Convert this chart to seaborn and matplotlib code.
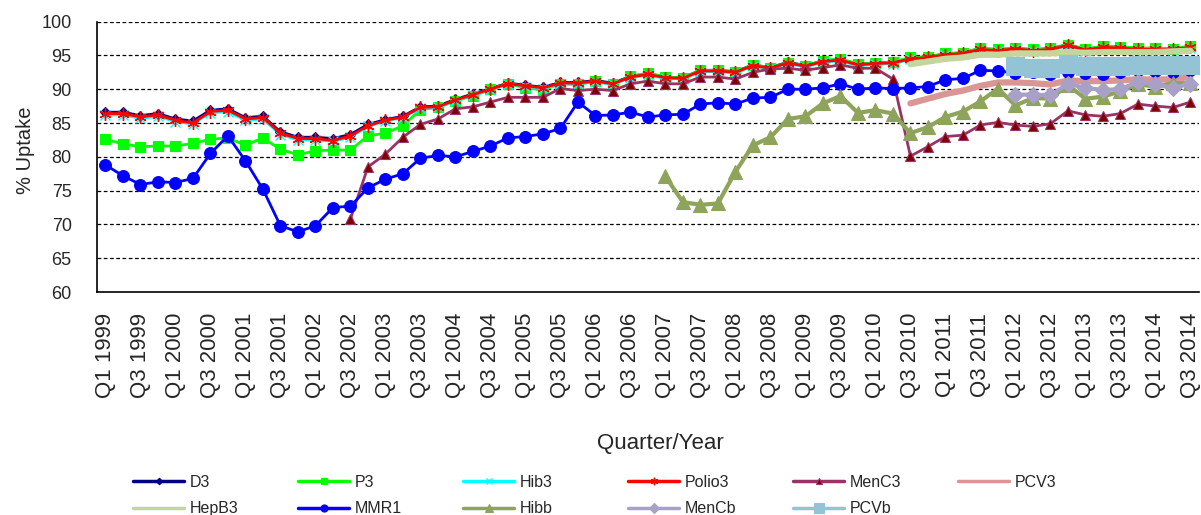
import numpy as np
import pandas as pd
import seaborn as sns
import matplotlib.pyplot as plt
from matplotlib.ticker import MultipleLocator, FixedLocator

NA = np.nan

# quarterly uptake (%), Q1 1999 .. Q3 2014
years = list(range(1999, 2015))
quarters = [f"Q{q} {y}" for y in years for q in (1, 2, 3, 4)][:63]

d3 = [86.6, 86.6, 86.1, 86.4, 85.6, 85.3, 86.9, 87.1, 85.8, 86.0,
      83.7, 82.9, 82.9, 82.7, 83.3, 84.8, 85.5, 86.0, 87.4, 87.5,
      88.5, 89.3, 90.1, 90.9, 90.6, 90.3, 91.0, 91.0, 91.3, 90.9,
      91.9, 92.3, 91.8, 91.7, 92.8, 92.8, 92.6, 93.6, 93.2, 94.0,
      93.5, 94.2, 94.4, 93.7, 93.9, 94.0, 94.6, 94.8, 95.2, 95.4,
      96.0, 95.8, 96.1, 95.8, 96.0, 96.6, 95.9, 96.3, 96.2, 96.0,
      96.0, 96.0, 96.3]
p3 = [82.6, 81.9, 81.5, 81.6, 81.6, 82.0, 82.6, 82.8, 81.7, 82.8,
      81.1, 80.3, 80.9, 81.0, 81.0, 83.1, 83.5, 84.6, 87.0, 87.3,
      88.3, 89.0, 90.0, 90.8, 90.2, 89.9, 90.8, 90.7, 91.2, 90.7,
      91.9, 92.4, 91.8, 91.7, 92.8, 92.8, 92.5, 93.6, 93.2, 93.9,
      93.5, 94.2, 94.5, 93.7, 93.9, 94.0, 94.7, 94.8, 95.3, 95.4,
      96.1, 95.9, 96.1, 95.9, 96.1, 96.6, 95.9, 96.4, 96.3, 96.1,
      96.1, 96.0, 96.4]
hib3 = [86.2, 86.2, 85.7, 86.0, 85.2, 84.9, 86.5, 86.7, 85.4, 85.6,
        83.3, 82.5, 82.5, 82.3, 82.9, 84.5, 85.3, 85.8, 87.2, 87.3,
        88.3, 89.1, 89.9, 90.8, 90.4, 90.1, 90.8, 90.8, 91.1, 90.7,
        91.7, 92.1, 91.6, 91.5, 92.6, 92.6, 92.4, 93.4, 93.0, 93.8,
        93.3, 94.0, 94.2, 93.5, 93.7, 93.8, 94.4, 94.6, 95.0, 95.2,
        95.8, 95.6, 95.9, 95.6, 95.8, 96.4, 95.7, 96.1, 96.0, 95.8,
        95.8, 95.8, 96.1]
polio3 = [86.4, 86.4, 85.9, 86.2, 85.4, 85.0, 86.7, 86.9, 85.6, 85.8,
          83.5, 82.7, 82.7, 82.4, 83.1, 84.6, 85.4, 85.9, 87.3, 87.4,
          88.4, 89.2, 90.0, 90.8, 90.5, 90.2, 90.9, 90.9, 91.2, 90.8,
          91.8, 92.2, 91.7, 91.6, 92.7, 92.7, 92.5, 93.5, 93.1, 93.9,
          93.4, 94.1, 94.3, 93.6, 93.8, 93.9, 94.5, 94.7, 95.1, 95.3,
          95.9, 95.7, 96.0, 95.7, 95.9, 96.5, 95.8, 96.2, 96.1, 95.9,
          95.9, 95.9, 96.2]
menc3 = [NA] * 14 + [
    70.8, 78.5, 80.4, 82.9, 84.8, 85.6, 87.1, 87.4, 88.1, 88.8,
    88.8, 88.8, 90.1, 89.8, 90.0, 89.8, 90.8, 91.2, 90.8, 90.8,
    91.8, 91.8, 91.5, 92.5, 93.0, 93.1, 92.8, 93.2, 93.6, 93.1,
    93.1, 91.5, 80.1, 81.5, 83.0, 83.2, 84.7, 85.1, 84.7, 84.5,
    84.9, 86.8, 86.2, 86.0, 86.4, 87.8, 87.5, 87.3, 88.1]
pcv3 = [NA] * 46 + [
    87.9, 88.6, 89.3, 89.8, 90.5, 91.0, 91.0, 90.9, 90.7, 91.3,
    91.2, 91.2, 91.3, 91.5, 91.4, 91.5, 91.8]
hepb3 = [NA] * 46 + [
    93.7, 94.1, 94.5, 94.7, 95.1, 95.1, 95.3, 95.3, 95.3, 95.5,
    95.4, 95.5, 95.5, 95.5, 95.5, 95.6, 95.7]
mmr1 = [78.8, 77.2, 75.9, 76.3, 76.2, 76.8, 80.5, 83.1, 79.4, 75.2,
        69.8, 68.9, 69.8, 72.5, 72.7, 75.4, 76.7, 77.5, 79.8, 80.2,
        80.0, 80.8, 81.6, 82.8, 83.0, 83.4, 84.2, 88.1, 86.1, 86.2,
        86.6, 85.9, 86.2, 86.3, 87.8, 88.0, 87.8, 88.7, 88.8, 90.0,
        90.0, 90.2, 90.8, 90.0, 90.2, 90.1, 90.2, 90.4, 91.4, 91.6,
        92.8, 92.7, 92.4, 92.5, 92.3, 92.6, 92.4, 92.3, 92.6, 92.8,
        92.7, 92.6, 92.9]
hibb = [NA] * 32 + [
    77.1, 73.3, 72.9, 73.1, 77.8, 81.7, 82.9, 85.6, 86.0, 87.9,
    89.0, 86.5, 86.9, 86.4, 83.5, 84.4, 85.9, 86.7, 88.2, 90.1,
    87.6, 88.7, 88.6, 90.6, 88.6, 88.9, 89.7, 90.7, 90.4, 90.9,
    90.9]
mencb = [NA] * 52 + [89.2, 89.2, 89.1, 90.8, 90.2, 89.9, 90.0, 91.1, 90.7, 90.2, 90.8]
pcvb = [NA] * 52 + [93.4, 93.1, 93.1, 93.8, 93.4, 93.4, 93.4, 93.6, 93.6, 93.6, 93.6]

series = [
    # name, values, line colour, marker, size, face, edge, linewidth
    ("D3", d3, "#000080", "D", 5.5, "#000080", "#000080", 2.0),
    ("P3", p3, "#00FF00", "s", 7.5, "#00FF00", "#00FF00", 2.0),
    ("Hib3", hib3, "#00FFFF", "x", 7, "#00FFFF", "#00FFFF", 2.0),
    ("Polio3", polio3, "#FF0000", (6, 2, 0), 9, "#FF0000", "#FF0000", 2.0),
    ("MenC3", menc3, "#993366", "^", 7.5, "#800000", "#993366", 2.0),
    ("PCV3", pcv3, "#D99694", "None", 0, "#D99694", "#D99694", 4.5),
    ("HepB3", hepb3, "#C3D69B", "None", 0, "#C3D69B", "#C3D69B", 4.5),
    ("MMR1", mmr1, "#0000FF", "o", 8.5, "#0000FF", "#0000FF", 2.0),
    ("Hibb", hibb, "#8EA45A", "^", 10.5, "#8EA45A", "#8EA45A", 3.0),
    ("MenCb", mencb, "#A9A0C8", "D", 8.5, "#A9A0C8", "#A9A0C8", 3.0),
    ("PCVb", pcvb, "#93C3D5", "s", 12.5, "#93C3D5", "#93C3D5", 3.0),
]

sns.set_style("white")
plt.rcParams["font.family"] = ["Liberation Sans", "DejaVu Sans"]

W, H = 1201, 515
AX = [0.0805, 0.433, 0.918, 0.525]

fig = plt.figure(figsize=(W / 100, H / 100), dpi=100)
ax = fig.add_axes(AX)

x = np.arange(len(quarters))
for name, vals, col, mk, ms, fc, ec, lw in series:
    sns.lineplot(x=x, y=np.array(vals, dtype=float), ax=ax, color=col,
                 marker=mk, markersize=ms, markerfacecolor=fc,
                 markeredgecolor=ec, markeredgewidth=1.0 if mk in ("x", (6, 2, 0)) else 0.8,
                 linewidth=lw, label=name)

ax.set_ylim(60, 100)
ax.set_xlim(-0.5, len(quarters) - 0.5)
ax.yaxis.set_major_locator(MultipleLocator(5))
for yv in range(65, 101, 5):
    ax.axhline(yv, color="black", linestyle=(0, (3, 2)), linewidth=0.9, zorder=0.5)

ax.set_xticks(x[::2])
ax.set_xticklabels(quarters[::2], rotation=90, fontsize=16)
ax.xaxis.set_minor_locator(FixedLocator(np.arange(-0.5, len(quarters), 1)))
ax.tick_params(axis="x", which="major", length=0, pad=15)
ax.tick_params(axis="x", which="minor", length=6, width=1, color="black", direction="out")
ax.tick_params(axis="y", which="major", length=6, width=1, color="black", direction="out",
               labelsize=13, pad=12)

for side in ("top", "right"):
    ax.spines[side].set_visible(False)
for side in ("left", "bottom"):
    ax.spines[side].set_color("black")
    ax.spines[side].set_linewidth(1.2)


def to_axes(px, py):
    # figure pixel (from top-left) -> axes fraction
    return ((px / W - AX[0]) / AX[2], ((H - py) / H - AX[1]) / AX[3])


ax.set_ylabel("% Uptake", fontsize=14.5)
ax.yaxis.set_label_coords(*to_axes(35, 150))
ax.set_xlabel("Quarter/Year", fontsize=16)
ax.xaxis.set_label_coords(*to_axes(660, 433))

handles, labels = ax.get_legend_handles_labels()
if ax.get_legend():
    ax.get_legend().remove()
lookup = dict(zip(labels, handles))
legend_cols = [["D3", "HepB3"], ["P3", "MMR1"], ["Hib3", "Hibb"],
               ["Polio3", "MenCb"], ["MenC3", "PCVb"], ["PCV3"]]
for c, names in enumerate(legend_cols):
    leg = fig.legend([lookup[n] for n in names], names, loc="upper left",
                     bbox_to_anchor=((133 + 165 * c) / W, 1 - 475 / H),
                     frameon=False, fontsize=11.5, handlelength=3.2, handletextpad=0.35,
                     labelspacing=0.7, borderpad=0, borderaxespad=0, markerscale=0.6)
    for ln in leg.get_lines():
        ln.set_linewidth(2.5)

fig.savefig("out.png", dpi=100)
